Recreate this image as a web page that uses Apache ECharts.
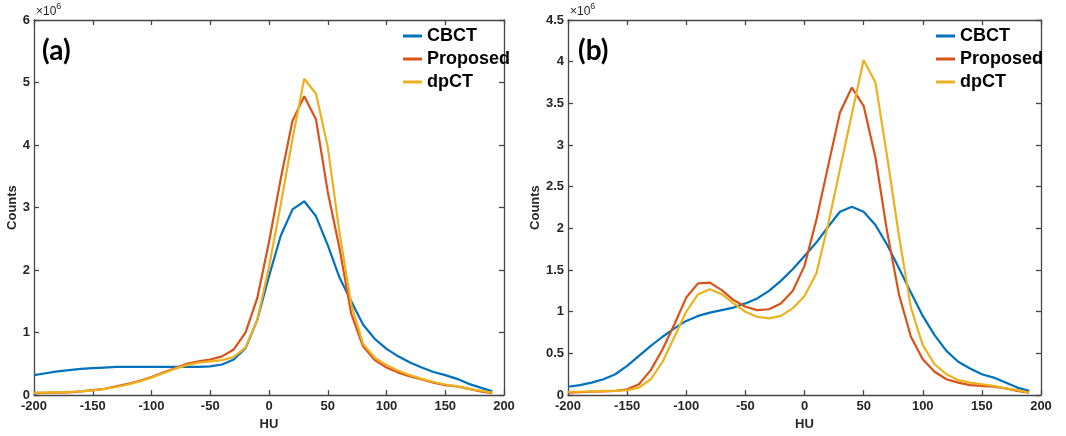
<!DOCTYPE html>
<html>
<head>
<meta charset="utf-8">
<script src="https://cdn.jsdelivr.net/npm/echarts@6/dist/echarts.min.js"></script>
<style>
html,body{margin:0;padding:0;background:#fff;}
#chart{width:1066px;height:436px;}
</style>
</head>
<body>
<div id="chart"></div>
<script>
// HU bins
const HU = [-200,-190,-180,-170,-160,-150,-140,-130,-120,-110,-100,-90,-80,-70,-60,-50,-40,-30,-20,-10,0,10,20,30,40,50,60,70,80,90,100,110,120,130,140,150,160,170,180,190];
// Panel (a), counts in units of 10^6
const cbctA = [0.32,0.35,0.38,0.40,0.42,0.43,0.44,0.45,0.45,0.45,0.45,0.45,0.45,0.45,0.45,0.46,0.49,0.57,0.75,1.2,1.9,2.55,2.97,3.1,2.86,2.4,1.88,1.5,1.13,0.9,0.74,0.62,0.52,0.44,0.37,0.32,0.26,0.18,0.12,0.06];
const proposedA = [0.03,0.035,0.04,0.045,0.06,0.08,0.10,0.14,0.18,0.23,0.29,0.36,0.43,0.50,0.54,0.57,0.62,0.73,1.0,1.55,2.45,3.46,4.39,4.78,4.41,3.25,2.35,1.3,0.78,0.56,0.44,0.36,0.30,0.25,0.20,0.16,0.14,0.10,0.06,0.03];
const dpctA = [0.04,0.04,0.045,0.05,0.06,0.075,0.10,0.13,0.17,0.22,0.28,0.35,0.42,0.48,0.52,0.54,0.56,0.61,0.76,1.2,2.05,3.05,4.1,5.06,4.82,3.97,2.6,1.45,0.82,0.6,0.48,0.39,0.32,0.26,0.21,0.17,0.14,0.10,0.07,0.04];
// Panel (b)
const cbctB = [0.10,0.12,0.15,0.19,0.25,0.35,0.47,0.59,0.70,0.80,0.89,0.95,0.99,1.02,1.05,1.10,1.16,1.25,1.37,1.51,1.67,1.83,2.02,2.2,2.26,2.2,2.04,1.8,1.52,1.23,0.95,0.72,0.53,0.40,0.32,0.25,0.21,0.15,0.09,0.05];
const proposedB = [0.03,0.035,0.04,0.045,0.05,0.07,0.13,0.30,0.55,0.85,1.17,1.34,1.35,1.26,1.14,1.06,1.02,1.03,1.10,1.25,1.55,2.1,2.75,3.39,3.69,3.47,2.85,1.95,1.2,0.70,0.43,0.28,0.19,0.15,0.12,0.11,0.10,0.08,0.05,0.03];
const dpctB = [0.04,0.04,0.045,0.05,0.05,0.06,0.09,0.19,0.40,0.70,1.00,1.21,1.27,1.21,1.10,1.00,0.94,0.92,0.95,1.04,1.19,1.46,2.05,2.71,3.37,4.02,3.75,2.85,1.9,1.05,0.6,0.37,0.25,0.18,0.15,0.13,0.11,0.08,0.06,0.03];
const seriesNames = ['CBCT','Proposed','dpCT'];
const panelLabels = ['(a)','(b)'];
const yMaxA = 6, yStepA = 1;
const yMaxB = 4.5, yStepB = 0.5;

const colors = ['#0072BD','#D95319','#EDB120'];
const axisColor = '#454545';
const font = 'Liberation Sans, Arial, Helvetica, sans-serif';

function pairs(arr){ return HU.map((h,i)=>[h, arr[i]]); }

const lineSt = {color: axisColor, width: 1.3};
function xMain(g){
  return {gridIndex:g, type:'value', min:-200, max:200, interval:50, position:'bottom',
    axisLine:{show:true, onZero:false, lineStyle:lineSt},
    axisTick:{show:true, inside:true, length:5, lineStyle:lineSt},
    axisLabel:{show:true, margin:5, fontSize:13, fontWeight:'bold', color:'#262626', fontFamily:font},
    splitLine:{show:false},
    name:'HU', nameLocation:'middle', nameGap:22,
    nameTextStyle:{fontSize:13, fontWeight:'bold', color:'#262626', fontFamily:font}};
}
function xTop(g){
  return {gridIndex:g, type:'value', min:-200, max:200, interval:50, position:'top',
    axisLine:{show:true, onZero:false, lineStyle:lineSt},
    axisTick:{show:true, inside:true, length:5, lineStyle:lineSt},
    axisLabel:{show:false}, splitLine:{show:false}};
}
function yMain(g, max, step, gap){
  return {gridIndex:g, type:'value', min:0, max:max, interval:step, position:'left',
    axisLine:{show:true, onZero:false, lineStyle:lineSt},
    axisTick:{show:true, inside:true, length:5, lineStyle:lineSt},
    axisLabel:{show:true, margin:4, fontSize:13, fontWeight:'bold', color:'#262626', fontFamily:font},
    splitLine:{show:false},
    name:'Counts', nameLocation:'middle', nameRotate:90, nameGap:gap,
    nameTextStyle:{fontSize:13, fontWeight:'bold', color:'#262626', fontFamily:font}};
}
function yRight(g, max, step){
  return {gridIndex:g, type:'value', min:0, max:max, interval:step, position:'right',
    axisLine:{show:true, onZero:false, lineStyle:lineSt},
    axisTick:{show:true, inside:true, length:5, lineStyle:lineSt},
    axisLabel:{show:false}, splitLine:{show:false}};
}
function mkSeries(name, data, xi, yi, ci){
  return {name:name, type:'line', xAxisIndex:xi, yAxisIndex:yi, data:pairs(data),
    showSymbol:false, symbol:'none', smooth:false, animation:false,
    lineStyle:{width:2.2, color:colors[ci]}, itemStyle:{color:colors[ci]}, z:3};
}
function legendAt(left){
  return {show:true, orient:'vertical', left:left, top:27, data:seriesNames, icon:'rect',
    itemWidth:19, itemHeight:3, itemGap:5, selectedMode:false, padding:0,
    textStyle:{fontSize:18, fontWeight:'bold', color:'#000', fontFamily:font}};
}
const superStyle = {a:{fontSize:12, fontFamily:font, fill:'#262626', verticalAlign:'bottom'}, b:{fontSize:9, fontFamily:font, fill:'#262626', padding:[0,0,7,0]}};

const chart = echarts.init(document.getElementById('chart'), null, {renderer:'canvas'});
chart.setOption({
  backgroundColor:'#fff',
  animation:false,
  grid:[{left:34, right:562, top:20, bottom:40}, {left:568, right:25, top:20, bottom:40}],
  xAxis:[xMain(0), xTop(0), xMain(1), xTop(1)],
  yAxis:[yMain(0, yMaxA, yStepA, 12), yRight(0, yMaxA, yStepA), yMain(1, yMaxB, yStepB, 21), yRight(1, yMaxB, yStepB)],
  legend:[legendAt(403), legendAt(936)],
  series:[
    mkSeries(seriesNames[0], cbctA, 0, 0, 0),
    mkSeries(seriesNames[1], proposedA, 0, 0, 1),
    mkSeries(seriesNames[2], dpctA, 0, 0, 2),
    mkSeries(seriesNames[0], cbctB, 2, 2, 0),
    mkSeries(seriesNames[1], proposedB, 2, 2, 1),
    mkSeries(seriesNames[2], dpctB, 2, 2, 2)
  ],
  graphic:[
    {type:'text', left:42, top:37, style:{text:panelLabels[0], font:'bold 28px Lato, "Open Sans", sans-serif', fill:'#000'}},
    {type:'text', left:578, top:37, style:{text:panelLabels[1], font:'bold 28px Lato, "Open Sans", sans-serif', fill:'#000'}},
    {type:'text', left:36, top:2, style:{text:'{a|×10}{b|6}', rich:superStyle}},
    {type:'text', left:570, top:2, style:{text:'{a|×10}{b|6}', rich:superStyle}}
  ]
});
</script>
</body>
</html>
